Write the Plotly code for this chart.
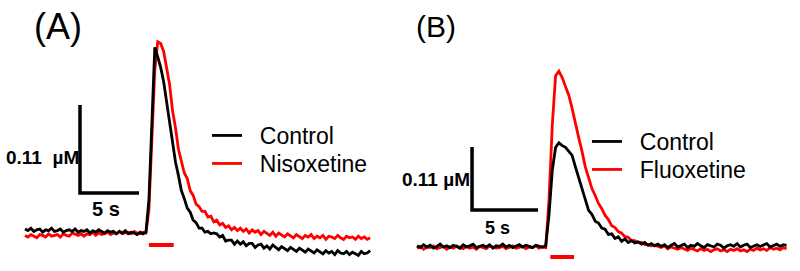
import plotly.graph_objects as go

# sampling interval of the recordings (s)
DT = 0.25

# ---------------- Panel A (nM) ----------------
control_A = (
    [5, 3, 6, 2, 4, 5, 1, 4, 3, 6, 2, 3, 5, 1, 3, 4, 2, 5, 1, 3, 2, 4, 0, 3, 1,
     4, 2, 0, 3, 1, 2, -1, 2, 0, 3, -1, 1, 0, -2, 1, -1, 1]
    + [41, 148, 232]
    + [220, 207, 189, 163, 135, 113, 89, 72, 53, 43, 31, 26, 16, 13, 6, 6, 1, 2, -1, 0]
    + [-1, -5, -3, -10, -9, -9, -14, -10, -14, -11, -16, -13, -13, -18, -15, -14, -19,
       -16, -20, -15, -18, -21, -17, -19, -22, -18, -21, -23, -19, -22, -24, -20, -23,
       -25, -21, -24, -26, -22, -25, -23, -27, -22, -25, -26, -23, -27, -24, -26, -28,
       -23, -26, -25, -22]
)
nisoxetine_A = (
    [-3, -5, -2, -4, -6, -2, -3, -5, -1, -4, -3, -2, -5, -1, -3, -4, 0, -2, -3, -1,
     -4, -1, -2, 1, -3, 0, -2, -1, 1, -2, 0, -1, 2, -1, 0, 1, -1, 2, 0, -1, 1, 0]
    + [29, 129, 204, 239]
    + [237, 227, 208, 186, 153, 132, 105, 90, 75, 68, 53, 47, 36, 33, 27, 27, 20, 21,
       14, 16, 10, 12, 7, 9, 4, 7, 3]
    + [6, 2, 5, 0, 4, 1, 3, -2, 2, 0, -3, 1, -4, 0, -2, -5, -1, -3, -6, -2, -5, -7, -3,
       -5, -2, -7, -4, -6, -3, -8, -4, -5, -7, -3, -6, -8, -4, -6, -5, -8, -4, -7, -5,
       -8, -6]
)

# ---------------- Panel B (nM) ----------------
control_B = (
    [2, -1, 4, 0, 3, -2, 1, 5, 0, 2, -1, 3, 1, -2, 4, 0, 2, 5, -1, 1, 3, 0, 4, -2, 2,
     1, 5, 0, 3, -1, 2, 4, 0, 3, 1, -1, 3, 2, 0, 2]
    + [56, 134, 174, 182, 177, 174, 166, 160, 140, 121, 98, 80, 64, 57, 45, 42, 33, 31,
       22, 23, 15, 18, 10, 14, 8, 11, 7, 9, 5, 8, 3, 6, 2]
    + [5, 1, 4, -1, 3, 6, 0, 2, 5, -1, 3, 1, 6, 2, -1, 4, 2, 0, 5, 3, -2, 2, 4, 1, 6,
       0, 3, 5, -1, 2, 4, 1, 3, 6, 0, 2, 5, 1, 4, 3]
)
fluoxetine_B = (
    [-2, 1, -4, 0, -1, 2, -3, -1, 1, -4, 0, -2, 2, -1, -3, 1, -2, 0, -4, 1, -1, -3, 2,
     0, -2, -1, 1, -3, 0, 2, -2, -1, 1, -3, 0, -1, 2, -2, 0, -1]
    + [82, 213, 299, 307, 296, 280, 265, 242, 219, 191, 167, 140, 121, 102, 90, 76, 67,
       55, 48, 37, 34, 27, 24, 18, 17, 11, 11, 8, 8, 4, 4, 2, 3]
    + [1, -1, 2, -3, 0, -2, -4, -1, -3, -6, -2, -5, -7, -3, -6, -4, -8, -5, -3, -7, -5,
       -8, -4, -6, -3, -7, -5, -8, -4, -6, -2, -5, -3, -6, -1, -4, -2, -5, -1, -3]
)

# stimulation periods (s) and scale bars
stim_A = [10.5, 12.6]
stim_B = [10.1, 11.9]
SCALE_T = 5.0       # s
SCALE_C = 0.11      # uM
scale_origin_A = (4.66, 0.050)
scale_origin_B = (4.17, 0.0646)

labels_A = ["Control", "Nisoxetine"]
labels_B = ["Control", "Fluoxetine"]

BLACK = "#000000"
RED = "#ff0000"
FONT = "Arial, Liberation Sans, sans-serif"


def times(vals):
    return [i * DT for i in range(len(vals))]


def um(vals):
    return [v / 1000.0 for v in vals]


fig = go.Figure()

LW = 2.8
# Panel A traces
fig.add_trace(go.Scatter(x=times(nisoxetine_A), y=um(nisoxetine_A), mode="lines",
                         line=dict(color=RED, width=LW), name="&nbsp;&nbsp;" + labels_A[1],
                         legend="legend2", xaxis="x", yaxis="y"))
fig.add_trace(go.Scatter(x=times(control_A), y=um(control_A), mode="lines",
                         line=dict(color=BLACK, width=LW), name="&nbsp;&nbsp;" + labels_A[0],
                         legend="legend", xaxis="x", yaxis="y"))
# Panel B traces
fig.add_trace(go.Scatter(x=times(fluoxetine_B), y=um(fluoxetine_B), mode="lines",
                         line=dict(color=RED, width=LW), name="&nbsp;&nbsp;" + labels_B[1],
                         legend="legend4", xaxis="x2", yaxis="y2"))
fig.add_trace(go.Scatter(x=times(control_B), y=um(control_B), mode="lines",
                         line=dict(color=BLACK, width=LW), name="&nbsp;&nbsp;" + labels_B[0],
                         legend="legend3", xaxis="x2", yaxis="y2"))

# stimulation bars
for stim, ya, xa in [(stim_A, -0.015, "x"), (stim_B, -0.0175, "x2")]:
    fig.add_trace(go.Scatter(x=stim, y=[ya, ya], mode="lines",
                             line=dict(color=RED, width=4), showlegend=False,
                             xaxis=xa, yaxis=xa.replace("x", "y")))

# scale bars
for (t0, c0), xa in [(scale_origin_A, "x"), (scale_origin_B, "x2")]:
    fig.add_trace(go.Scatter(x=[t0, t0, t0 + SCALE_T], y=[c0 + SCALE_C, c0, c0],
                             mode="lines", line=dict(color=BLACK, width=3.5),
                             showlegend=False, xaxis=xa, yaxis=xa.replace("x", "y")))

annotations = [
    dict(text="(A)", x=58 / 800, y=1 - 26 / 271, xref="paper", yref="paper",
         xanchor="center", yanchor="middle",
         showarrow=False, font=dict(family=FONT, size=36, color=BLACK)),
    dict(text="(B)", x=436 / 800, y=1 - 26 / 271, xref="paper", yref="paper",
         xanchor="center", yanchor="middle",
         showarrow=False, font=dict(family=FONT, size=30, color=BLACK)),
    dict(text="<b>0.11  µM</b>", x=scale_origin_A[0], y=0.094, xref="x", yref="y",
         xanchor="right", yanchor="middle", xshift=1, showarrow=False,
         font=dict(family=FONT, size=19, color=BLACK)),
    dict(text="<b>5 s</b>", x=scale_origin_A[0] + SCALE_T / 2, y=0.03, xref="x", yref="y",
         xanchor="center", yanchor="middle", xshift=-3, showarrow=False,
         font=dict(family=FONT, size=20, color=BLACK)),
    dict(text="<b>0.11 µM</b>", x=scale_origin_B[0], y=0.117, xref="x2", yref="y2",
         xanchor="right", yanchor="middle", xshift=0, showarrow=False,
         font=dict(family=FONT, size=19, color=BLACK)),
    dict(text="<b>5 s</b>", x=scale_origin_B[0] + SCALE_T / 2, y=0.033, xref="x2", yref="y2",
         xanchor="center", yanchor="middle", xshift=-8, showarrow=False,
         font=dict(family=FONT, size=18, color=BLACK)),
]

axis_common = dict(visible=False, showgrid=False, zeroline=False, fixedrange=True)


def leg(px_x, px_top):
    return dict(x=px_x / 800, y=1 - px_top / 271, xanchor="left", yanchor="top",
                font=dict(family=FONT, size=23, color=BLACK),
                bgcolor="rgba(0,0,0,0)", borderwidth=0)


fig.update_layout(
    width=800, height=271,
    margin=dict(l=0, r=0, t=0, b=0),
    paper_bgcolor="white", plot_bgcolor="white",
    xaxis=dict(domain=[0, 0.5], range=[-25 / 11.8, 375 / 11.8], **axis_common),
    yaxis=dict(domain=[0, 1], range=[-38 / 800, 233 / 800], **axis_common),
    xaxis2=dict(domain=[0.5, 1], range=[-17 / 13.2, 383 / 13.2], **axis_common),
    yaxis2=dict(domain=[0, 1], range=[-24 / 572.7, 247 / 572.7], anchor="x2", **axis_common),
    legend=leg(207, 114),
    legend2=leg(207, 142),
    legend3=leg(587, 120),
    legend4=leg(587, 148),
    annotations=annotations,
    showlegend=True,
)

fig.write_html("out.html", config={"displayModeBar": False},
               post_script="document.body.style.margin='0';")
